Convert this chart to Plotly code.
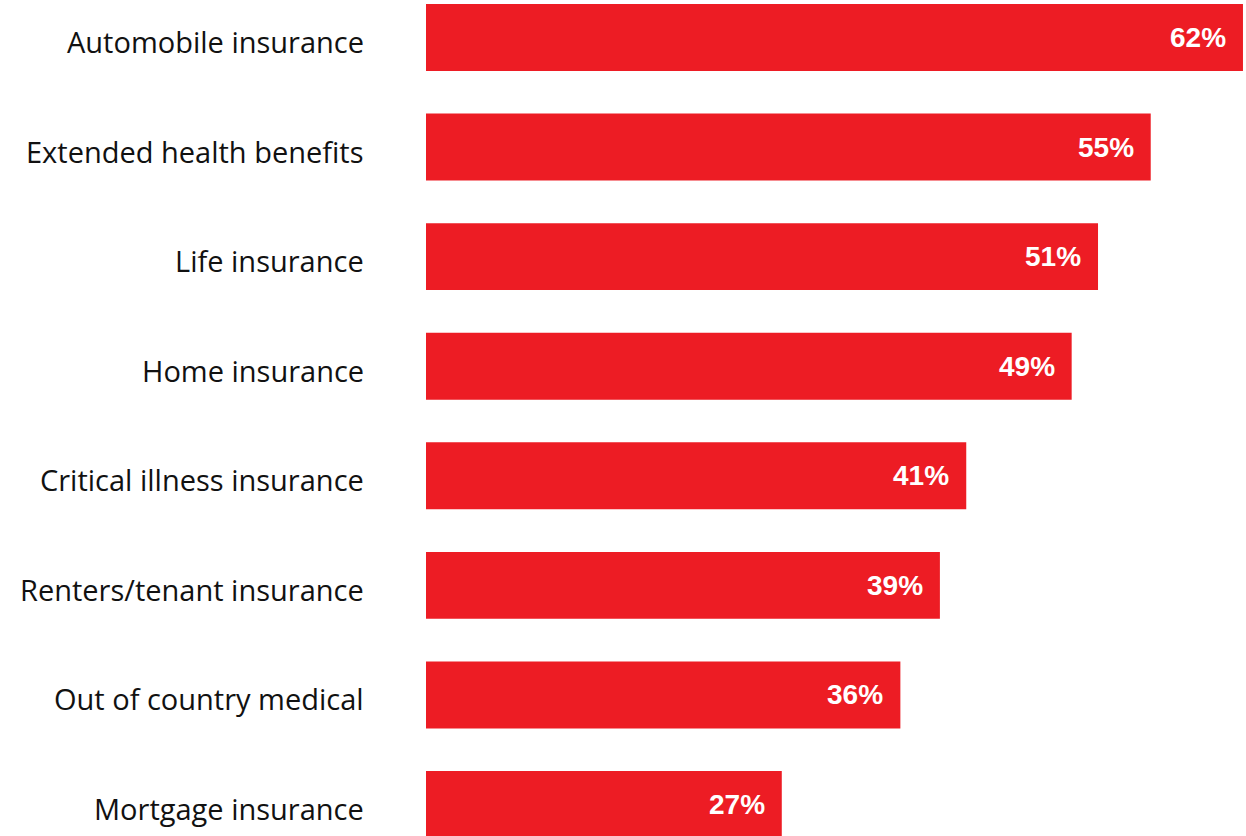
import plotly.graph_objects as go

categories = ["Automobile insurance", "Extended health benefits", "Life insurance",
              "Home insurance", "Critical illness insurance", "Renters/tenant insurance",
              "Out of country medical", "Mortgage insurance"]
values = [62, 55, 51, 49, 41, 39, 36, 27]
labels = [f"{v}%" for v in values]

BAR = "#ED1C24"

fig = go.Figure(go.Bar(
    x=values, y=categories, orientation="h",
    marker=dict(color=BAR, line=dict(width=0)),
    hoverinfo="skip",
))

for c, v, t in zip(categories, values, labels):
    fig.add_annotation(x=v, y=c, text=t, showarrow=False, xanchor="right",
                       xshift=-15, yshift=0,
                       font=dict(family="Liberation Sans, Arial", size=28,
                                 color="white", weight="bold"))
    fig.add_annotation(x=0, xref="paper", y=c, text=c, showarrow=False,
                       xanchor="right", xshift=-60, yshift=-4,
                       font=dict(family="Open Sans", size=29, color="#111111"))

fig.update_layout(
    width=1246, height=836,
    margin=dict(l=426, r=0, t=0, b=0),
    paper_bgcolor="white", plot_bgcolor="white",
    bargap=0.389,
    showlegend=False,
    xaxis=dict(range=[0, 62.23], visible=False, fixedrange=True),
    yaxis=dict(categoryorder="array", categoryarray=categories,
               range=[7.287, -0.342], showgrid=False, zeroline=False,
               showline=False, ticks="", showticklabels=False),
)

fig.write_html("out.html")
